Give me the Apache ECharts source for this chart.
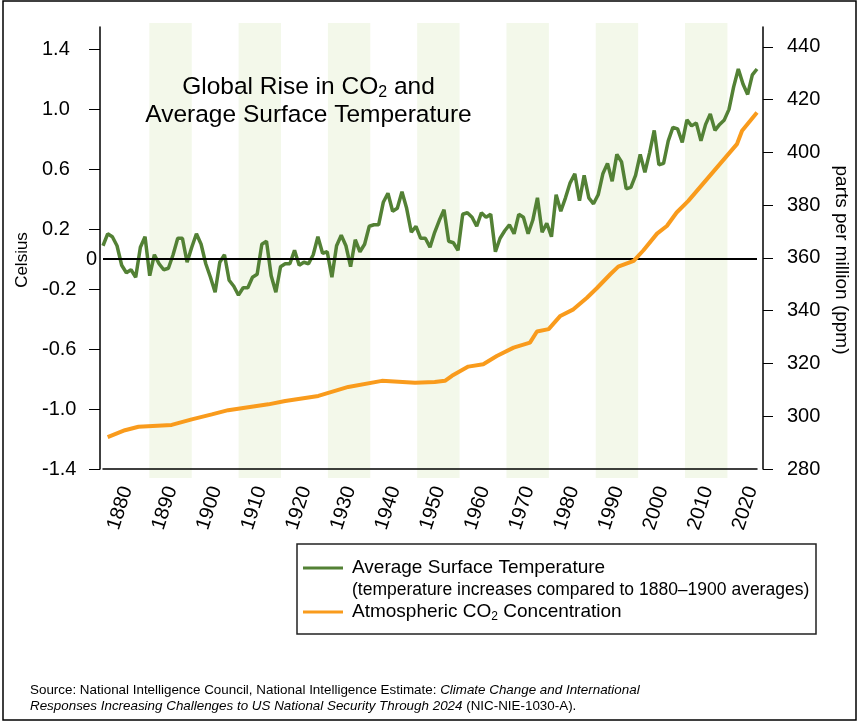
<!DOCTYPE html>
<html>
<head>
<meta charset="utf-8">
<script src="https://cdn.jsdelivr.net/npm/echarts@6/dist/echarts.min.js"></script>
<style>html,body{margin:0;padding:0;background:#fff}#c{width:859px;height:724px}</style>
</head>
<body>
<div id="c"></div>
<script>
// ---- data ----
const years = [
  1880,1881,1882,1883,1884,1885,1886,1887,1888,1889,
  1890,1891,1892,1893,1894,1895,1896,1897,1898,1899,
  1900,1901,1902,1903,1904,1905,1906,1907,1908,1909,
  1910,1911,1912,1913,1914,1915,1916,1917,1918,1919,
  1920,1921,1922,1923,1924,1925,1926,1927,1928,1929,
  1930,1931,1932,1933,1934,1935,1936,1937,1938,1939,
  1940,1941,1942,1943,1944,1945,1946,1947,1948,1949,
  1950,1951,1952,1953,1954,1955,1956,1957,1958,1959,
  1960,1961,1962,1963,1964,1965,1966,1967,1968,1969,
  1970,1971,1972,1973,1974,1975,1976,1977,1978,1979,
  1980,1981,1982,1983,1984,1985,1986,1987,1988,1989,
  1990,1991,1992,1993,1994,1995,1996,1997,1998,1999,
  2000,2001,2002,2003,2004,2005,2006,2007,2008,2009,
  2010,2011,2012,2013,2014,2015,2016,2017,2018,2019,2020
];
const temperature = [
  0.09, 0.17, 0.15, 0.09,-0.04,-0.09,-0.07,-0.12, 0.08, 0.15,
 -0.11, 0.03,-0.03,-0.07,-0.06, 0.03, 0.14, 0.14,-0.02, 0.08,
  0.17, 0.10,-0.03,-0.12,-0.22,-0.02, 0.03,-0.14,-0.18,-0.24,
 -0.19,-0.19,-0.12,-0.10, 0.10, 0.12,-0.11,-0.22,-0.05,-0.03,
 -0.03, 0.06,-0.04,-0.02,-0.03, 0.03, 0.15, 0.04, 0.05,-0.12,
  0.09, 0.16, 0.09,-0.05, 0.13, 0.05, 0.10, 0.22, 0.23, 0.23,
  0.38, 0.44, 0.32, 0.34, 0.45, 0.34, 0.18, 0.22, 0.14, 0.14,
  0.08, 0.18, 0.26, 0.33, 0.12, 0.11, 0.06, 0.30, 0.31, 0.28,
  0.22, 0.31, 0.28, 0.30, 0.05, 0.14, 0.19, 0.23, 0.17, 0.30,
  0.28, 0.17, 0.26, 0.41, 0.18, 0.24, 0.15, 0.43, 0.32, 0.41,
  0.51, 0.57, 0.39, 0.56, 0.41, 0.37, 0.43, 0.57, 0.64, 0.52,
  0.70, 0.65, 0.47, 0.48, 0.56, 0.70, 0.58, 0.71, 0.86, 0.63,
  0.64, 0.79, 0.88, 0.87, 0.78, 0.93, 0.89, 0.91, 0.79, 0.90,
  0.97, 0.86, 0.90, 0.93, 1.00, 1.15, 1.27, 1.17, 1.10, 1.23, 1.27
];
const co2Years = [
  1881, 1884.7, 1887.6, 1894.7, 1899, 1903.3, 1906.8, 1915.4, 1919, 1926.1,
  1932.5, 1939.7, 1946.8, 1951, 1953.2, 1954.7, 1958.2, 1961.4, 1964.3, 1967.9,
  1971.4, 1972.9, 1975.4, 1977.9, 1980.7, 1983.6, 1985.7, 1988.6, 1990.3, 1993.6,
  1995.7, 1998.6, 2000.7, 2002.8, 2005.3, 2015.7, 2016.8, 2020
];
const co2Values = [
  292.1, 294.7, 296.0, 296.7, 298.8, 300.7, 302.3, 304.5, 305.8, 307.7,
  311.1, 313.4, 312.7, 313.0, 313.4, 315.3, 318.8, 319.7, 322.8, 326.0,
  327.9, 332.1, 333.0, 338.0, 340.5, 344.9, 348.5, 353.8, 356.7, 358.9,
  362.9, 369.2, 372.1, 377.2, 381.6, 403.1, 408.2, 415.1
];
const xTickLabels = [1880,1890,1900,1910,1920,1930,1940,1950,1960,1970,1980,1990,2000,2010,2020];
const celsiusTicks = [-1.4,-1.0,-0.6,-0.2,0.2,0.6,1.0,1.4];
const ppmTicks = [280,300,320,340,360,380,400,420,440];
const bandStart = [1885,1905,1925,1945,1965,1985,2005];
const bandEnd   = [1894.5,1914.5,1934.5,1954.5,1974.5,1994.5,2014.5];

const tempName = 'Average Surface Temperature';
const co2Name = 'Atmospheric CO2 Concentration';
const FONT = '"Liberation Sans", Arial, Helvetica, sans-serif';

const chart = echarts.init(document.getElementById('c'), null, {renderer: 'canvas'});

const option = {
  animation: false,
  backgroundColor: '#ffffff',
  textStyle: {fontFamily: FONT},
  title: {
    text: 'Global Rise in CO{sub|2} and\nAverage Surface Temperature',
    left: 303.5,
    top: 68,
    textAlign: 'center',
    textStyle: {
      fontSize: 24.5, fontWeight: 'normal', color: '#000', lineHeight: 28, fontFamily: FONT,
      rich: {sub: {fontSize: 16, lineHeight: 12, verticalAlign: 'bottom', color: '#000', fontFamily: FONT}}
    }
  },
  legend: {
    data: [tempName, co2Name],
    orient: 'vertical',
    left: 303,
    top: 557,
    padding: 0,
    icon: 'rect',
    itemWidth: 40,
    itemHeight: 3,
    itemGap: 22,
    selectedMode: false,
    formatter: function (name) {
      return name === co2Name ? 'Atmospheric CO{sub|2} Concentration' : name;
    },
    textStyle: {
      fontSize: 19, color: '#000', lineHeight: 22, fontFamily: FONT, padding: [0, 0, 0, 4],
      rich: {sub: {fontSize: 12, lineHeight: 10, verticalAlign: 'bottom', color: '#000', fontFamily: FONT}}
    }
  },
  grid: [
    {left: 103, right: 102, top: 27, bottom: 255},
    {left: 127, right: 107, top: 23, bottom: 246}
  ],
  xAxis: [
    {
      gridIndex: 0, type: 'value', min: 1880, max: 2020, z: 5,
      axisLine: {show: true, onZero: false, lineStyle: {color: '#000', width: 1.5}},
      axisTick: {show: false}, axisLabel: {show: false}, splitLine: {show: false}
    },
    {
      gridIndex: 1, type: 'value', min: 1880, max: 2020,
      axisLine: {show: false}, axisTick: {show: false}, splitLine: {show: false},
      axisLabel: {
        customValues: xTickLabels, formatter: function (v) { return String(v); },
        rotate: 72, margin: 9, fontSize: 20, color: '#000', fontFamily: FONT
      }
    }
  ],
  yAxis: [
    {
      gridIndex: 0, type: 'value', position: 'left', offset: 3, min: -1.4, max: 1.55,
      name: 'Celsius', nameLocation: 'middle', nameRotate: 90, nameGap: 62,
      nameTextStyle: {fontSize: 17, color: '#000', fontFamily: FONT, padding: [0, 24, 0, 0]},
      axisLine: {show: true, lineStyle: {color: '#000', width: 1.5}},
      axisTick: {show: true, customValues: celsiusTicks, length: 11, lineStyle: {color: '#000', width: 1}},
      axisLabel: {
        customValues: celsiusTicks, formatter: function (v) { return v.toFixed(1); },
        align: 'left', margin: 58, fontSize: 20, color: '#000', fontFamily: FONT
      },
      splitLine: {show: false}
    },
    {
      gridIndex: 0, type: 'value', position: 'right', offset: 6, min: 280, max: 447.5,
      name: 'parts per million (ppm)', nameLocation: 'middle', nameRotate: -90, nameGap: 68,
      nameTextStyle: {fontSize: 19, color: '#000', fontFamily: FONT, padding: [0, 0, 0, 24]},
      axisLine: {show: true, lineStyle: {color: '#000', width: 1.5}},
      axisTick: {show: true, customValues: ppmTicks, length: 10, lineStyle: {color: '#000', width: 1}},
      axisLabel: {customValues: ppmTicks, margin: 24, fontSize: 20, color: '#000', fontFamily: FONT},
      splitLine: {show: false}
    },
    {gridIndex: 1, type: 'value', min: 0, max: 1, show: false}
  ],
  series: [
    {
      name: 'bands', type: 'line', xAxisIndex: 1, yAxisIndex: 2, data: [], silent: true, z: 1,
      markArea: {
        silent: true,
        itemStyle: {color: '#f3f8ea'},
        data: bandStart.map(function (s, i) { return [{xAxis: s}, {xAxis: bandEnd[i]}]; })
      }
    },
    {
      name: tempName, type: 'line', xAxisIndex: 0, yAxisIndex: 0,
      data: years.map(function (y, i) { return [y, temperature[i]]; }),
      symbol: 'none', z: 4,
      lineStyle: {color: '#538135', width: 3.5},
      itemStyle: {color: '#538135'},
      markLine: {
        silent: true, symbol: 'none',
        lineStyle: {color: '#000', width: 2, type: 'solid'},
        label: {show: true, position: 'start', formatter: '0', fontSize: 20, color: '#000', distance: 6, fontFamily: FONT, padding: [0, 0, 8, 0]},
        data: [{yAxis: 0}]
      }
    },
    {
      name: co2Name, type: 'line', xAxisIndex: 0, yAxisIndex: 1,
      data: co2Years.map(function (y, i) { return [y, co2Values[i]]; }),
      symbol: 'none', z: 5,
      lineStyle: {color: '#f99b1c', width: 4},
      itemStyle: {color: '#f99b1c'}
    }
  ],
  graphic: [
    {type: 'rect', silent: true, z: 100, shape: {x: 3, y: 1, width: 853, height: 719},
     style: {fill: 'none', stroke: '#000', lineWidth: 1.5}},
    {type: 'rect', silent: true, z: 100, shape: {x: 297, y: 544, width: 519, height: 90},
     style: {fill: 'none', stroke: '#222', lineWidth: 1.5}},
    {type: 'text', silent: true, z: 100, left: 352, top: 581,
     style: {text: '(temperature increases compared to 1880\u20131900 averages)', fontSize: 17.5, fontFamily: FONT, fill: '#000'}},
    {type: 'text', silent: true, z: 100, left: 30, top: 682,
     style: {
       text: 'Source: National Intelligence Council, National Intelligence Estimate: {i|Climate Change and International}\n{i|Responses Increasing Challenges to US National Security Through 2024} (NIC-NIE-1030-A).',
       fontSize: 13.4, fontFamily: FONT, fill: '#000', lineHeight: 16,
       rich: {i: {fontStyle: 'italic', fontSize: 13.4, fontFamily: FONT, fill: '#000', lineHeight: 16}}
     }}
  ]
};
chart.setOption(option);
</script>
</body>
</html>
